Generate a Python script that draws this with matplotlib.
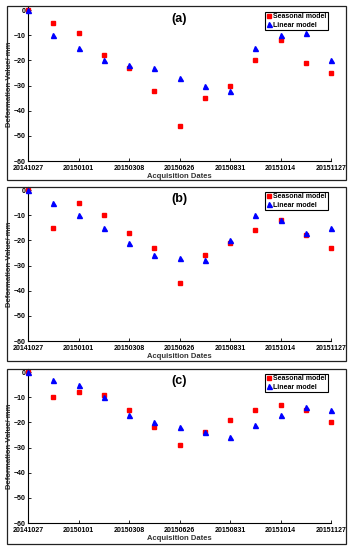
import matplotlib
matplotlib.use("Agg")
import matplotlib.pyplot as plt
from matplotlib.patches import Rectangle

plt.rcParams['font.family'] = ['Liberation Sans', 'DejaVu Sans']
plt.rcParams['font.weight'] = 'bold'

tick_labels = ["20141027", "20150101", "20150308", "20150626", "20150831", "20151014", "20151127"]
panel_labels = ["(a)", "(b)", "(c)"]

seasonal_a = [0, -5, -9, -18, -23, -32, -46, -35, -30, -20, -12, -21, -25]
linear_a = [0, -10, -15, -20, -22, -23, -27, -30, -32, -15, -10, -9, -20]
seasonal_b = [0, -15, -5, -10, -17, -23, -37, -26, -21, -16, -12, -18, -23]
linear_b = [0, -5, -10, -15, -21, -26, -27, -28, -20, -10, -12, -17, -15]
seasonal_c = [0, -10, -8, -9, -15, -22, -29, -24, -19, -15, -13, -15, -20]
linear_c = [0, -3, -5, -10, -17, -20, -22, -24, -26, -21, -17, -14, -15]

seasonal = [seasonal_a, seasonal_b, seasonal_c]
linear = [linear_a, linear_b, linear_c]

W, H = 354, 550
fig = plt.figure(figsize=(W / 100, H / 100), dpi=100)

# (axes top px, axes bottom px, box top px, box bottom px)
layout = [(7, 161, 6, 180), (187, 341, 187, 361), (369, 523, 369, 544)]
ax_left, ax_right = 28, 331
box_left, box_right = 7, 346

for i in range(3):
    top, bot, btop, bbot = layout[i]
    ax = fig.add_axes([ax_left / W, 1 - bot / H, (ax_right - ax_left) / W, (bot - top) / H])
    x = list(range(len(seasonal[i])))
    ax.plot(x, seasonal[i], linestyle='none', marker='s', color='#ff0000',
            markersize=3.2, label='Seasonal model', clip_on=False, zorder=3)
    ax.plot(x, linear[i], linestyle='none', marker='^', color='#0000ff',
            markersize=3.6, label='Linear model', clip_on=False, zorder=3)
    ax.set_xlim(0, 12)
    ax.set_ylim(-60, 1.2)
    ax.set_xticks(range(0, 13, 2))
    ax.set_xticklabels(tick_labels)
    ax.set_yticks(range(-60, 1, 10))
    ax.tick_params(direction='in', length=2.5, width=0.6, labelsize=5, pad=1.5)
    ax.tick_params(axis='x', pad=3.2)
    for lab in ax.get_xticklabels() + ax.get_yticklabels():
        lab.set_fontweight('bold')
    ax.spines['top'].set_visible(False)
    ax.spines['right'].set_visible(False)
    ax.spines['left'].set_linewidth(0.8)
    ax.spines['bottom'].set_linewidth(0.8)
    ax.set_xlabel('Acquisition Dates', fontsize=5.5, fontweight='bold', labelpad=0.3, color='#333333')
    ax.set_ylabel('Deformation Value/ mm', fontsize=5.5, fontweight='bold', labelpad=1, color='#333333')
    ax.text(0.5, 0.92, panel_labels[i], transform=ax.transAxes, ha='center', va='center',
            fontsize=9, fontweight='bold')
    leg = ax.legend(loc='upper right', bbox_to_anchor=(0.99, 0.97), fontsize=5,
                    frameon=True, fancybox=False, edgecolor='black', framealpha=1,
                    handlelength=0.6, handletextpad=0.3, borderpad=0.25,
                    labelspacing=0.2, borderaxespad=0)
    leg.get_frame().set_linewidth(0.8)
    for t in leg.get_texts():
        t.set_fontweight('bold')
    fig.add_artist(Rectangle((box_left / W, 1 - bbot / H), (box_right - box_left) / W,
                             (bbot - btop) / H, transform=fig.transFigure, fill=False,
                             edgecolor='#222222', linewidth=0.9))

fig.savefig('out.png', dpi=100)
